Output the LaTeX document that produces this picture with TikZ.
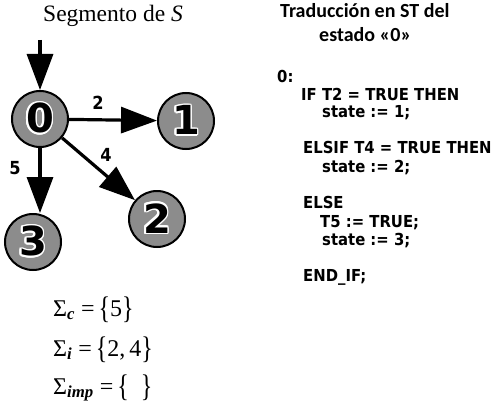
\documentclass[tikz,border=0pt]{standalone}
\usepackage{fontspec}
\setmainfont{Liberation Serif}
\newfontfamily\codefont[FakeStretch=0.9]{DejaVu Sans}
\newfontfamily\titlefont{Carlito}
\newfontfamily\digitfont{DejaVu Sans}
\usepackage[copies]{contour}
\contourlength{1.6pt}
\newcommand\lbr{\raisebox{-0.12em}{\scalebox{1}[1.3]{\{}}}
\newcommand\rbr{\raisebox{-0.12em}{\scalebox{1}[1.3]{\}}}}
\usetikzlibrary{arrows.meta}
\begin{document}
\begin{tikzpicture}[x=1pt,y=-1pt,
  state/.style={circle,draw=black,line width=2pt,fill=black!45,minimum size=56pt,inner sep=0pt,
    font=\digitfont\bfseries\fontsize{40}{40}\selectfont},
  arr/.style={line width=3.2pt,-{Triangle[length=36pt,width=26pt]}},
  elabel/.style={font=\codefont\bfseries\fontsize{18}{18}\selectfont,inner sep=0pt},
  code/.style={anchor=base west,inner sep=0pt,font=\codefont\bfseries\fontsize{16.5}{16.5}\selectfont},
  ttl/.style={anchor=base west,inner sep=0pt,font=\titlefont\bfseries\fontsize{20}{20}\selectfont},
  sig/.style={anchor=base west,inner sep=0pt,font=\fontsize{24}{24}\selectfont}]
\useasboundingbox (0,0) rectangle (495,404);
% title
\node[anchor=base west,inner sep=0pt,font=\fontsize{23.5}{23.5}\selectfont] (title) at (43,22) {Segmento de \textit{S}};
% states
\node[state] (n0) at (40,119) {\contour{white}{0}};
\node[state] (n1) at (186,121) {\contour{white}{1}};
\node[state] (n2) at (157,219) {\contour{white}{2}};
\node[state] (n3) at (33,242) {\contour{white}{3}};
\coordinate (start) at (40,40);
\draw[arr] (start) -- (n0);
\draw[arr] (n0) -- (n1);
\draw[arr] (n0) -- (n2);
\draw[arr] (n0.south) -- (n0.south |- n3.north);
\node[elabel] (l2) at (98,103) {2};
\node[elabel] (l4) at (106,155) {4};
\node[elabel] (l5) at (15,168) {5};
% sigma sets
\node[sig] (s1) at (53,316) {Σ\textsubscript{\textbf{\textit{c}}} =\,\lbr 5\rbr};
\node[sig] (s2) at (53,356) {Σ\textsubscript{\textbf{\textit{i}}} =\,\lbr 2,\,4\rbr};
\node[sig] (s3) at (53,394) {Σ\textsubscript{\textbf{\textit{imp}}} =\,\lbr\ \ \rbr};
% right side
\node[ttl] (t1) at (280,18) {Traducción en ST del};
\node[ttl] (t2) at (319,42) {estado «0»};
\node[code] (c0) at (277,82) {0:};
\node[code] (c1) at (301,100) {IF T2 = TRUE THEN};
\node[code] (c2) at (322,117) {state := 1;};
\node[code] (c3) at (303,153) {ELSIF T4 = TRUE THEN};
\node[code] (c4) at (322,172) {state := 2;};
\node[code] (c5) at (303,208) {ELSE};
\node[code] (c6) at (320,227) {T5 := TRUE;};
\node[code] (c7) at (322,245) {state := 3;};
\node[code] (c8) at (303,281) {END\_IF;};
\end{tikzpicture}
\end{document}
